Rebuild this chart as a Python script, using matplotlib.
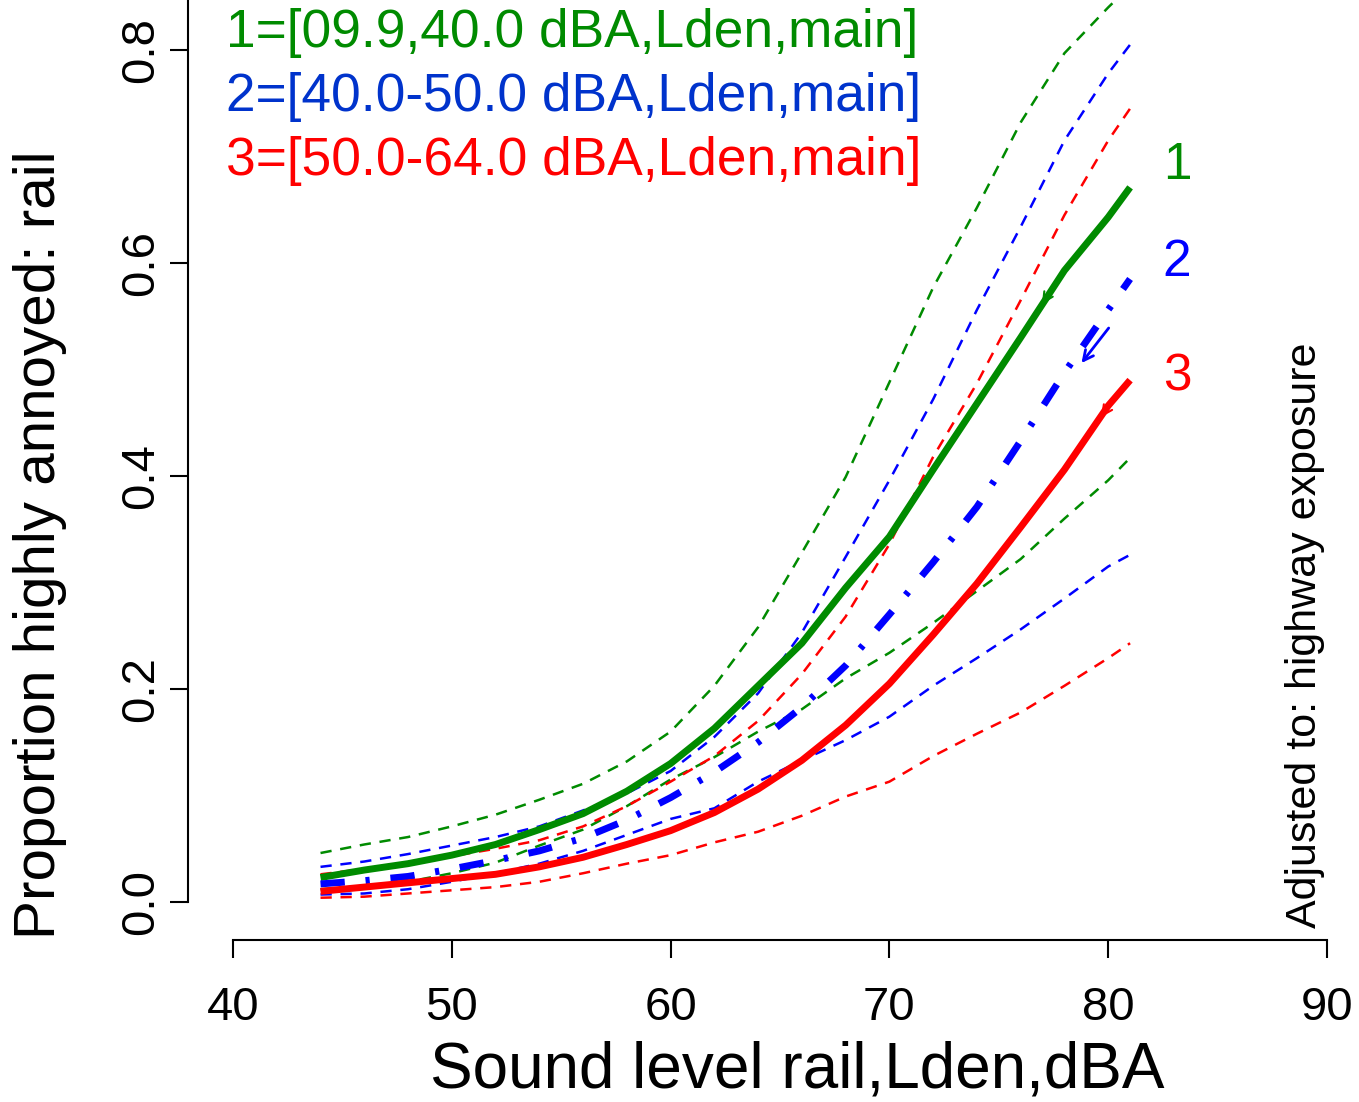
import numpy as np
import matplotlib
matplotlib.use("Agg")
import matplotlib.pyplot as plt

plt.rcParams['font.family'] = ['Liberation Sans', 'DejaVu Sans']

# sound level grid (dBA)
x = [44, 46, 48, 50, 52, 54, 56, 58, 60, 62, 64, 66, 68, 70, 72, 74, 76, 78, 80, 81]

# 1 = [09.9,40.0] highway
g_mid = [0.023, 0.030, 0.036, 0.044, 0.054, 0.068, 0.083, 0.104, 0.130, 0.163, 0.203, 0.243, 0.295, 0.343, 0.406, 0.468, 0.530, 0.593, 0.643, 0.671]
g_hi = [0.046, 0.054, 0.061, 0.071, 0.082, 0.096, 0.111, 0.132, 0.160, 0.203, 0.258, 0.328, 0.399, 0.488, 0.577, 0.652, 0.732, 0.797, 0.840, 0.860]
g_lo = [0.012, 0.015, 0.019, 0.027, 0.037, 0.053, 0.068, 0.090, 0.115, 0.136, 0.160, 0.181, 0.210, 0.234, 0.262, 0.292, 0.322, 0.360, 0.396, 0.417]

# 2 = [40.0-50.0]
b_mid = [0.017, 0.020, 0.024, 0.031, 0.039, 0.048, 0.060, 0.077, 0.098, 0.122, 0.150, 0.183, 0.222, 0.270, 0.319, 0.371, 0.433, 0.497, 0.556, 0.585]
b_hi = [0.033, 0.038, 0.045, 0.053, 0.061, 0.071, 0.086, 0.102, 0.123, 0.155, 0.196, 0.253, 0.324, 0.396, 0.472, 0.556, 0.634, 0.715, 0.778, 0.805]
b_lo = [0.007, 0.008, 0.012, 0.019, 0.027, 0.036, 0.048, 0.063, 0.078, 0.088, 0.113, 0.133, 0.152, 0.174, 0.203, 0.229, 0.256, 0.285, 0.315, 0.326]

# 3 = [50.0-64.0]
r_mid = [0.010, 0.014, 0.018, 0.022, 0.026, 0.033, 0.042, 0.054, 0.067, 0.084, 0.106, 0.133, 0.166, 0.205, 0.251, 0.299, 0.352, 0.406, 0.466, 0.490]
r_hi = [0.026, 0.031, 0.037, 0.043, 0.050, 0.058, 0.071, 0.090, 0.113, 0.137, 0.170, 0.214, 0.268, 0.336, 0.418, 0.487, 0.565, 0.645, 0.715, 0.745]
r_lo = [0.004, 0.005, 0.008, 0.011, 0.014, 0.019, 0.027, 0.036, 0.044, 0.056, 0.066, 0.081, 0.099, 0.113, 0.137, 0.158, 0.178, 0.203, 0.229, 0.243]

legend_text = ['1=[09.9,40.0 dBA,Lden,main]', '2=[40.0-50.0 dBA,Lden,main]', '3=[50.0-64.0 dBA,Lden,main]']
GREEN, BLUE, RED = '#008B00', '#0000FF', '#FF0000'

W, H = 1359, 1102
fig = plt.figure(figsize=(W / 100, H / 100), dpi=100)

# pixel -> data scale
px_per_x = 21.88
px_per_y = 1065.0
left_px, right_px, bottom_px, top_px = 188, 1359, 940, 0
ax = fig.add_axes([left_px / W, 1 - bottom_px / H, (right_px - left_px) / W, (bottom_px - top_px) / H])
ax.set_xlim(40 - (233 - left_px) / px_per_x, 40 + (right_px - 233) / px_per_x)
ax.set_ylim((902 - bottom_px) / px_per_y, (902 - top_px) / px_per_y)

dash = dict(lw=1.8, dashes=(4.5, 3.5))
ax.plot(x, g_hi, color=GREEN, **dash)
ax.plot(x, g_lo, color=GREEN, **dash)
ax.plot(x, b_hi, color=BLUE, **dash)
ax.plot(x, b_lo, color=BLUE, **dash)
ax.plot(x, r_hi, color=RED, **dash)
ax.plot(x, r_lo, color=RED, **dash)

ax.plot(x, g_mid, color=GREEN, lw=5, solid_capstyle='butt')
ax.plot(x, b_mid, color=BLUE, lw=5, dashes=(3.5, 3, 0.6, 3), dash_capstyle='butt')
ax.plot(x, r_mid, color=RED, lw=5, solid_capstyle='butt')

# small arrows along the curves
ax.annotate('', xy=(76.9, 0.559), xytext=(77.4, 0.575),
            arrowprops=dict(arrowstyle='->', color=GREEN, lw=1.5, mutation_scale=18))
ax.annotate('', xy=(78.7, 0.504), xytext=(80.1, 0.541),
            arrowprops=dict(arrowstyle='->', color=BLUE, lw=2, mutation_scale=18))
ax.annotate('', xy=(79.6, 0.453), xytext=(80.0, 0.465),
            arrowprops=dict(arrowstyle='->', color=RED, lw=1.5, mutation_scale=18))

for s in ['top', 'right']:
    ax.spines[s].set_visible(False)
ax.spines['bottom'].set_bounds(40, 90)
ax.spines['left'].set_bounds(0, 1.0)
for s in ['bottom', 'left']:
    ax.spines[s].set_linewidth(1.5)

ax.set_xticks([40, 50, 60, 70, 80, 90])
ax.set_yticks([0.0, 0.2, 0.4, 0.6, 0.8])
ax.set_yticklabels(['0.0', '0.2', '0.4', '0.6', '0.8'], rotation=90, va='center')
ax.tick_params(axis='both', direction='out', length=13, width=1.5, labelsize=34)
ax.tick_params(axis='x', pad=20)
ax.tick_params(axis='y', pad=5)

fig.text(797 / W, 1 - 1070 / H, 'Sound level rail,Lden,dBA', fontsize=46, ha='center', va='center')
fig.text(40 / W, 1 - 545 / H, 'Proportion highly annoyed: rail', fontsize=42, rotation=90, ha='center', va='center')
fig.text(1305 / W, 1 - 635 / H, 'Adjusted to: highway exposure', fontsize=31, rotation=90, ha='center', va='center')

for txt, yp, c in zip(legend_text, [47, 111, 175], [GREEN, '#0033CC', RED]):
    fig.text(226 / W, 1 - yp / H, txt, fontsize=38.3, color=c, ha='left', va='baseline')

for lab, yp, c in zip(['1', '2', '3'], [165, 262, 377], [GREEN, BLUE, RED]):
    fig.text(1177 / W, 1 - yp / H, lab, fontsize=37, color=c, ha='center', va='center')

fig.savefig('out.png', dpi=100)
